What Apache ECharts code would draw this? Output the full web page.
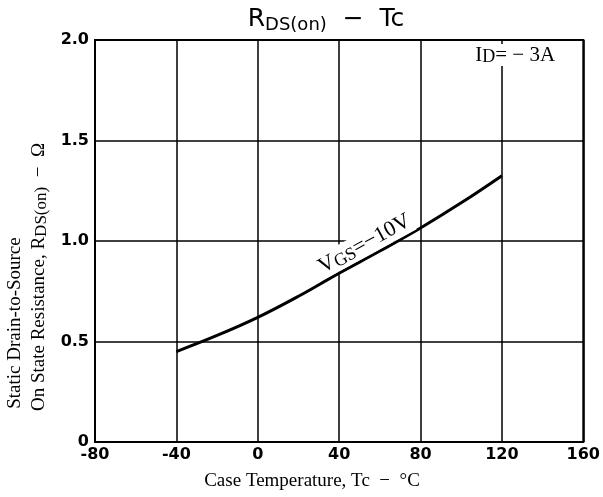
<!DOCTYPE html>
<html>
<head>
<meta charset="utf-8">
<script src="https://cdn.jsdelivr.net/npm/echarts@6/dist/echarts.min.js"></script>
<style>html,body{margin:0;padding:0;background:#fff}#c{width:603px;height:497px}</style>
</head>
<body>
<div id="c"></div>
<script>
var temps = [-40, -20, 0, 20, 40, 60, 80, 100, 120];
var rdsOn = [0.45, 0.53, 0.62, 0.725, 0.84, 0.95, 1.065, 1.19, 1.325];
var xTicks = [-80, -40, 0, 40, 80, 120, 160];
var yTicks = [0, 0.5, 1.0, 1.5, 2.0];

var chart = echarts.init(document.getElementById('c'));
var serif = '"Liberation Serif", "DejaVu Serif", serif';
var sans = '"DejaVu Sans", sans-serif';

chart.setOption({
  animation: false,
  backgroundColor: '#fff',
  grid: { left: 95, right: 19, top: 40, bottom: 55, show: true, borderColor: '#000', borderWidth: 2 },
  xAxis: {
    type: 'value', min: xTicks[0], max: xTicks[xTicks.length - 1], interval: 40,
    axisLine: { show: false }, axisTick: { show: false },
    splitLine: { show: true, lineStyle: { color: '#000', width: 1.5 } },
    axisLabel: { color: '#000', fontFamily: sans, fontWeight: 'bold', fontSize: 16, margin: 5,
      formatter: function (v) { return String(v); } }
  },
  yAxis: {
    type: 'value', min: yTicks[0], max: yTicks[yTicks.length - 1], interval: 0.5,
    axisLine: { show: false }, axisTick: { show: false },
    splitLine: { show: true, lineStyle: { color: '#000', width: 1.5 } },
    axisLabel: { color: '#000', fontFamily: sans, fontWeight: 'bold', fontSize: 16, margin: 6,
      formatter: function (v) { return v === 0 ? '0' : v.toFixed(1); } }
  },
  series: [{
    type: 'line', data: temps.map(function (t, i) { return [t, rdsOn[i]]; }),
    smooth: 0.4, showSymbol: false, lineStyle: { color: '#000', width: 3 }, z: 3
  }]
});

var p1 = chart.convertToPixel({ gridIndex: 0 }, [52.5, 0.985]);
var p2 = chart.convertToPixel({ gridIndex: 0 }, [126.5, 1.925]);
chart.setOption({
  graphic: [
    { type: 'text', x: 326, y: 19, style: {
      text: '{m|R}{s|DS(on)}{m|  −  Tc}', align: 'center', verticalAlign: 'middle', fill: '#000',
      rich: {
        m: { fontFamily: sans, fontSize: 25, lineHeight: 30, verticalAlign: 'middle', fill: '#000' },
        s: { fontFamily: sans, fontSize: 18, lineHeight: 18, verticalAlign: 'bottom', fill: '#000' }
      } } },
    { type: 'text', x: p1[0], y: p1[1], rotation: 0.5, z: 10, style: {
      text: '{m|V}{s|GS}{m|=−10V}', align: 'center', verticalAlign: 'middle',
      backgroundColor: '#fff', padding: [0, 2],
      rich: {
        m: { fontFamily: serif, fontSize: 22, lineHeight: 24, verticalAlign: 'middle', fill: '#000' },
        s: { fontFamily: serif, fontSize: 18, lineHeight: 15, verticalAlign: 'bottom', fill: '#000' }
      } } },
    { type: 'text', x: p2[0], y: p2[1], z: 10, style: {
      text: '{m|I}{s|D}{m|= − 3A}', align: 'center', verticalAlign: 'middle',
      backgroundColor: '#fff', padding: [0, 2],
      rich: {
        m: { fontFamily: serif, fontSize: 21, lineHeight: 22, verticalAlign: 'middle', fill: '#000' },
        s: { fontFamily: serif, fontSize: 18, lineHeight: 14, verticalAlign: 'bottom', fill: '#000' }
      } } },
    { type: 'text', x: 312, y: 481, style: {
      text: 'Case Temperature, Tc  −  °C', align: 'center', verticalAlign: 'middle',
      fontFamily: serif, fontSize: 19, fill: '#000' } },
    { type: 'text', x: 15, y: 323, rotation: Math.PI / 2, style: {
      text: 'Static Drain-to-Source', align: 'center', verticalAlign: 'middle',
      fontFamily: serif, fontSize: 19, fill: '#000' } },
    { type: 'text', x: 39, y: 277, rotation: Math.PI / 2, style: {
      text: '{m|On State Resistance, R}{s|DS(on)}{m|  −  Ω}', align: 'center', verticalAlign: 'middle',
      rich: {
        m: { fontFamily: serif, fontSize: 19, lineHeight: 22, verticalAlign: 'middle', fill: '#000' },
        s: { fontFamily: serif, fontSize: 17, lineHeight: 14, verticalAlign: 'bottom', fill: '#000' }
      } } }
  ]
});
</script>
</body>
</html>
